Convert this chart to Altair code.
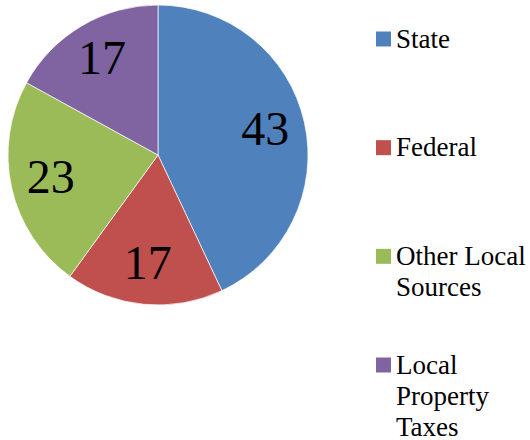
import altair as alt
import pandas as pd

categories = ["State", "Federal", "Other Local Sources", "Local Property Taxes"]
legend_labels = ["State", "Federal", "Other Local\nSources", "Local\nProperty\nTaxes"]
values = [43, 17, 23, 17]
colors = ["#4F81BD", "#C0504D", "#9BBB59", "#8064A2"]

df = pd.DataFrame({
    "cat": categories,
    "lab": legend_labels,
    "value": values,
    "idx": list(range(len(categories))),
})

color = alt.Color("cat:N", scale=alt.Scale(domain=categories, range=colors), legend=None)
theta = alt.Theta("value:Q", stack=True)
order = alt.Order("idx:Q")

cx, cy = 158, 155

pie = alt.Chart(df).mark_arc(radius=150, stroke="white", strokeWidth=0.7).encode(
    theta=theta, color=color, order=order,
    x=alt.value(cx), y=alt.value(cy),
)

labels = alt.Chart(df).mark_text(
    radius=110, font="Liberation Serif", fontSize=48, color="black",
    align="center", baseline="middle",
).encode(
    theta=theta, order=order, text=alt.Text("value:Q"),
    x=alt.value(cx), y=alt.value(cy),
)

ypos = alt.Y("cat:N", sort=categories, axis=None,
             scale=alt.Scale(type="point", range=[39, 365], padding=0))

leg_sq = alt.Chart(df).mark_square(size=225, opacity=1).encode(
    x=alt.value(383.5), y=ypos, color=color,
)

leg_txt = alt.Chart(df).mark_text(
    font="Liberation Serif", fontSize=27, color="black", align="left",
    baseline="alphabetic", dy=8.5, lineBreak="\n", lineHeight=31,
).encode(
    x=alt.value(396), y=ypos, text=alt.Text("lab:N"),
)

chart = alt.layer(pie, labels, leg_sq, leg_txt).properties(
    width=530, height=440, padding=0, autosize=alt.AutoSizeParams(type="none"),
    background="white",
).configure_view(stroke=None)

chart.save("out.html", embed_options={"renderer": "svg", "actions": False})
